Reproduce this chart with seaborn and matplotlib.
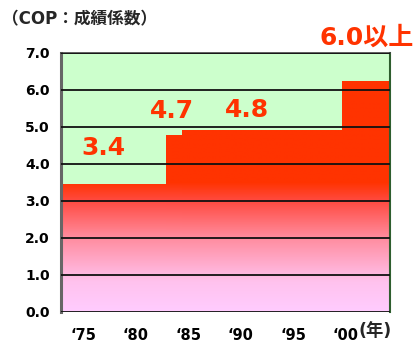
import numpy as np
import matplotlib
matplotlib.use("Agg")
import matplotlib.pyplot as plt
import seaborn as sns
from matplotlib.colors import LinearSegmentedColormap
import matplotlib.transforms as mtrans

# ---- data ----
period_edges = [1972.9, 1982.9, 1984.4, 1999.6, 2004.2]
cop_values = [3.44, 4.76, 4.90, 6.22]
tick_years = [1975, 1980, 1985, 1990, 1995, 2000]
tick_labels = ["‘75", "‘80", "‘85", "‘90", "‘95", "‘00"]
y_ticks = [0, 1, 2, 3, 4, 5, 6, 7]
annot_texts = ["3.4", "4.7", "4.8", "6.0以上"]
title_text = "（COP：成績係数）"
year_unit = "(年)"

sns.set_theme(style="white")
FAM = ["DejaVu Sans", "Noto Sans CJK JP"]
plt.rcParams["font.family"] = FAM

fig = plt.figure(figsize=(4.16, 3.45), dpi=100)
ax = fig.add_axes([0.1466, 0.0971, 0.7909, 0.7507])
ax.set_facecolor("#CCFFCC")

mids = [(a + b) / 2 for a, b in zip(period_edges[:-1], period_edges[1:])]
sns.histplot(x=mids, weights=cop_values, bins=period_edges, stat="count",
             element="bars", fill=True, color="#FF3300", alpha=1,
             linewidth=0, edgecolor="none", ax=ax)

# vertical gradient clipped to the bars
cmap = LinearSegmentedColormap.from_list(
    "cop", [(0.0, "#FFCCFF"), (0.8 / 3.5, "#FFC2EE"), (2.0 / 3.5, "#FF8C9E"),
            (3.0 / 3.5, "#FF4A40"), (1.0, "#FF3300")])
grad_y = np.linspace(0, 7, 400)
grad = np.clip(grad_y / 3.5, 0, 1)[:, None]
for p in list(ax.patches):
    im = ax.imshow(grad, cmap=cmap, vmin=0, vmax=1, origin="lower",
                   extent=[period_edges[0], period_edges[-1], 0, 7],
                   aspect="auto", zorder=1.5, interpolation="bilinear")
    im.set_clip_path(p)

ax.set_xlim(period_edges[0], period_edges[-1])
ax.set_ylim(0, 7)
ax.set_xlabel("")
ax.set_ylabel("")

ax.set_yticks(y_ticks)
ax.set_yticklabels([f"{v:.1f}" for v in y_ticks], fontsize=10, fontweight="bold")
ax.set_xticks(tick_years)
ax.set_xticklabels(tick_labels, fontsize=10.5, fontweight="bold")
ax.tick_params(axis="y", length=0, pad=8, colors="black")
ax.tick_params(axis="x", length=0, pad=12, colors="black")

ax.set_axisbelow(False)
ax.yaxis.grid(True, color="#111111", linewidth=1.3)
ax.xaxis.grid(False)

for s in ["left", "top", "right", "bottom"]:
    ax.spines[s].set_visible(True)
ax.spines["left"].set_color("#666666")
ax.spines["left"].set_linewidth(2.2)
ax.spines["top"].set_color("#444444")
ax.spines["top"].set_linewidth(1.2)
ax.spines["right"].set_color("#2E5E2E")
ax.spines["right"].set_linewidth(1.5)
ax.spines["bottom"].set_visible(False)

# value annotations
ann_pos = [(1976.9, 4.41), (1983.5, 5.41), (1990.6, 5.44), (2002.0, 7.40)]
for txt, (xx, yy) in zip(annot_texts, ann_pos):
    ax.text(xx, yy, txt, color="#FF3300", fontsize=18, fontweight="bold",
            ha="center", va="center", family=FAM, clip_on=False)

# year unit after last tick
trans = mtrans.blended_transform_factory(ax.transData, ax.transAxes)
ax.text(2001.2, -0.04, year_unit, transform=trans, fontsize=12.5,
        fontweight="bold", ha="left", va="top", family=FAM)

fig.text(0.005, 0.945, title_text, fontsize=12, fontweight="bold",
         ha="left", va="center", family=FAM)

fig.savefig("out.png", dpi=100)
